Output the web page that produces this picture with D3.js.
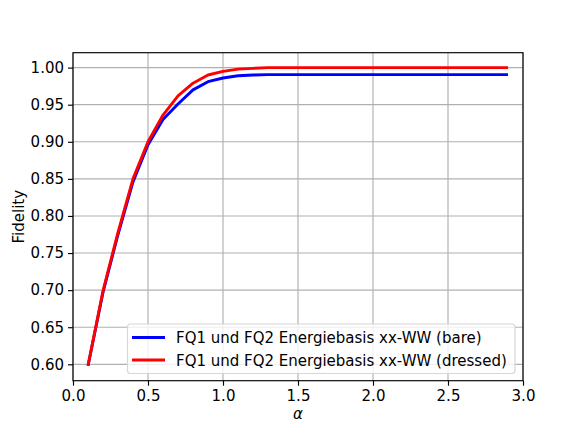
<!DOCTYPE html>
<html>
<head>
<meta charset="utf-8">
<script src="https://cdn.jsdelivr.net/npm/d3@7"></script>
<style>
  body { margin: 0; background: #fff; }
  text { font-family: "DejaVu Sans", sans-serif; }
</style>
</head>
<body>
<div id="chart"></div>
<script>
"use strict";

// alpha values along the x axis
const alphas = [0.1, 0.2, 0.3, 0.4, 0.5, 0.6, 0.7, 0.8, 0.9, 1.0,
  1.1, 1.2, 1.3, 1.4, 1.5, 1.6, 1.7, 1.8, 1.9, 2.0,
  2.1, 2.2, 2.3, 2.4, 2.5, 2.6, 2.7, 2.8, 2.9];

// fidelity, bare basis
const bareFid = [0.598, 0.697, 0.775, 0.846, 0.896, 0.930, 0.951, 0.970, 0.981, 0.986,
  0.989, 0.990, 0.9905, 0.9905, 0.9905, 0.9905, 0.9905, 0.9905, 0.9905, 0.9905,
  0.9905, 0.9905, 0.9905, 0.9905, 0.9905, 0.9905, 0.9905, 0.9905, 0.9905];

// fidelity, dressed basis
const dressedFid = [0.598, 0.699, 0.778, 0.850, 0.900, 0.936, 0.962, 0.979, 0.990, 0.995,
  0.998, 0.999, 1.0, 1.0, 1.0, 1.0, 1.0, 1.0, 1.0, 1.0,
  1.0, 1.0, 1.0, 1.0, 1.0, 1.0, 1.0, 1.0, 1.0];

const seriesNames = ["FQ1 und FQ2 Energiebasis xx-WW (bare)",
  "FQ1 und FQ2 Energiebasis xx-WW (dressed)"];
const seriesColors = ["#0000ff", "#ff0000"];

const xTicks = [0.0, 0.5, 1.0, 1.5, 2.0, 2.5, 3.0];
const yTicks = [0.60, 0.65, 0.70, 0.75, 0.80, 0.85, 0.90, 0.95, 1.00];

const msm = {
  width: 581,
  height: 436,
  left: 73,
  right: 523,
  top: 52.7,
  bottom: 380.7,
  font: "15px"
};

const svg = d3.select("#chart")
  .append("svg")
  .attr("width", msm.width)
  .attr("height", msm.height);

// scales
let xScale = d3.scaleLinear()
  .domain([0, 3])
  .range([msm.left, msm.right]);

let yScale = d3.scaleLinear()
  .domain([0.5779, 1.0201])
  .range([msm.bottom, msm.top]);

// grid lines
svg.append("g")
  .selectAll("line")
  .data(xTicks)
  .enter()
  .append("line")
    .attr("x1", (d) => xScale(d))
    .attr("x2", (d) => xScale(d))
    .attr("y1", msm.top)
    .attr("y2", msm.bottom)
    .attr("stroke", "#b0b0b0")
    .attr("stroke-width", 1.15);

svg.append("g")
  .selectAll("line")
  .data(yTicks)
  .enter()
  .append("line")
    .attr("x1", msm.left)
    .attr("x2", msm.right)
    .attr("y1", (d) => yScale(d))
    .attr("y2", (d) => yScale(d))
    .attr("stroke", "#b0b0b0")
    .attr("stroke-width", 1.15);

// the two curves
let lineGen = d3.line()
  .x((d) => xScale(d[0]))
  .y((d) => yScale(d[1]));

[bareFid, dressedFid].forEach((vals, i) => {
  svg.append("path")
    .datum(alphas.map((a, j) => [a, vals[j]]))
    .attr("fill", "none")
    .attr("stroke", seriesColors[i])
    .attr("stroke-width", 2.9)
    .attr("stroke-linejoin", "round")
    .attr("d", lineGen);
});

// axes
let xAxis = d3.axisBottom(xScale)
  .tickValues(xTicks)
  .tickFormat(d3.format(".1f"))
  .tickSize(5)
  .tickPadding(5);

let yAxis = d3.axisLeft(yScale)
  .tickValues(yTicks)
  .tickFormat(d3.format(".2f"))
  .tickSize(5)
  .tickPadding(4);

let gx = svg.append("g")
  .attr("transform", "translate(0," + msm.bottom + ")")
  .call(xAxis);
let gy = svg.append("g")
  .attr("transform", "translate(" + msm.left + ",0)")
  .call(yAxis);

[gx, gy].forEach((g) => {
  g.select(".domain").remove();
  g.selectAll("line").attr("stroke", "#000").attr("stroke-width", 1.15);
  g.selectAll("text")
    .attr("fill", "#000")
    .style("font-family", "DejaVu Sans, sans-serif")
    .style("font-size", msm.font);
});

// spines
svg.append("rect")
  .attr("x", msm.left)
  .attr("y", msm.top)
  .attr("width", msm.right - msm.left)
  .attr("height", msm.bottom - msm.top)
  .attr("fill", "none")
  .attr("stroke", "#000")
  .attr("stroke-width", 1.15);

// legend
let legend = svg.append("g");
legend.append("rect")
  .attr("x", 127.5)
  .attr("y", 324)
  .attr("width", 387.5)
  .attr("height", 49.5)
  .attr("rx", 3)
  .attr("fill", "#fff")
  .attr("fill-opacity", 0.8)
  .attr("stroke", "#d6d6d6")
  .attr("stroke-width", 1.15);

seriesNames.forEach((name, i) => {
  let y = 337.5 + i * 22.5;
  legend.append("line")
    .attr("x1", 132)
    .attr("x2", 165)
    .attr("y1", y)
    .attr("y2", y)
    .attr("stroke", seriesColors[i])
    .attr("stroke-width", 2.9);
  legend.append("text")
    .attr("x", 176)
    .attr("y", y + 5.5)
    .style("font-size", msm.font)
    .text(name);
});

// labels
svg.append("text")
  .attr("x", (msm.left + msm.right) / 2)
  .attr("y", 419)
  .attr("text-anchor", "middle")
  .style("font-size", msm.font)
  .style("font-style", "italic")
  .text("α");

svg.append("text")
  .attr("transform", "translate(24," + ((msm.top + msm.bottom) / 2) + ")rotate(-90)")
  .attr("text-anchor", "middle")
  .style("font-size", msm.font)
  .text("Fidelity");
</script>
</body>
</html>
